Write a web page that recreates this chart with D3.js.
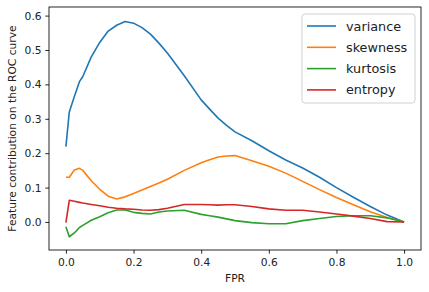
<!DOCTYPE html>
<html>
<head>
<meta charset="utf-8">
<script src="https://cdn.jsdelivr.net/npm/d3@7"></script>
<style>
  body { margin: 0; background: #fff; }
  svg text { font-family: "DejaVu Sans", sans-serif; fill: #222; }
</style>
</head>
<body>
<svg id="chart" width="429" height="292"></svg>
<script>
// FPR grid shared by all series
const fpr = [0, 0.01, 0.025, 0.04, 0.05, 0.075, 0.1, 0.125, 0.15, 0.175, 0.2, 0.225, 0.25, 0.275, 0.3,
  0.35, 0.4, 0.425, 0.45, 0.475, 0.5, 0.55, 0.6, 0.65, 0.7, 0.75, 0.8, 0.85, 0.9, 0.95, 1.0];

const variance = [0.219, 0.32, 0.365, 0.408, 0.423, 0.48, 0.522, 0.555, 0.572, 0.583, 0.578, 0.565, 0.546, 0.52, 0.491,
  0.425, 0.355, 0.328, 0.302, 0.281, 0.262, 0.236, 0.207, 0.18, 0.157, 0.13, 0.1, 0.072, 0.045, 0.02, 0.0];
const skewness = [0.13, 0.13, 0.151, 0.156, 0.15, 0.12, 0.095, 0.075, 0.067, 0.073, 0.083, 0.093, 0.103, 0.113, 0.124,
  0.15, 0.172, 0.181, 0.189, 0.192, 0.193, 0.178, 0.162, 0.142, 0.118, 0.094, 0.071, 0.05, 0.03, 0.013, 0.0];
const kurtosis = [-0.014, -0.043, -0.032, -0.016, -0.01, 0.005, 0.015, 0.027, 0.035, 0.035, 0.028, 0.025, 0.023, 0.029, 0.032,
  0.034, 0.022, 0.018, 0.014, 0.009, 0.004, -0.002, -0.005, -0.005, 0.004, 0.01, 0.016, 0.018, 0.018, 0.012, 0.0];
const entropy = [-0.002, 0.063, 0.06, 0.057, 0.055, 0.051, 0.047, 0.043, 0.04, 0.038, 0.037, 0.035, 0.034, 0.036, 0.04,
  0.051, 0.051, 0.05, 0.049, 0.05, 0.05, 0.045, 0.038, 0.034, 0.034, 0.029, 0.023, 0.017, 0.01, 0.001, 0.0];

const seriesNames = ["variance", "skewness", "kurtosis", "entropy"];
const seriesValues = [variance, skewness, kurtosis, entropy];
const colors = ["#1f77b4", "#ff7f0e", "#2ca02c", "#d62728"];

const xTicks = [0, 0.2, 0.4, 0.6, 0.8, 1.0];
const yTicks = [0.0, 0.1, 0.2, 0.3, 0.4, 0.5, 0.6];

const svg = d3.select("#chart");
const plotLeft = 49, plotRight = 421, plotTop = 7, plotBottom = 250;

const x = d3.scaleLinear().domain([-0.05, 1.05]).range([plotLeft, plotRight]);
const y = d3.scaleLinear().domain([-0.0815, 0.625]).range([plotBottom, plotTop]);

// Lines
const line = d3.line()
  .x(d => x(d[0]))
  .y(d => y(d[1]));

seriesValues.forEach((vals, i) => {
  svg.append("path")
    .datum(fpr.map((f, j) => [f, vals[j]]))
    .attr("fill", "none")
    .attr("stroke", colors[i])
    .attr("stroke-width", 1.6)
    .attr("stroke-linejoin", "round")
    .attr("d", line);
});

// Axes
const xAxis = svg.append("g")
  .attr("transform", `translate(0,${plotBottom})`)
  .call(d3.axisBottom(x).tickValues(xTicks).tickFormat(d3.format(".1f"))
    .tickSize(3.7).tickPadding(4.5).tickSizeOuter(0));
const yAxis = svg.append("g")
  .attr("transform", `translate(${plotLeft},0)`)
  .call(d3.axisLeft(y).tickValues(yTicks).tickFormat(d3.format(".1f"))
    .tickSize(3.7).tickPadding(3.7).tickSizeOuter(0));

[xAxis, yAxis].forEach(a => {
  a.select(".domain").remove();
  a.selectAll("line").attr("stroke", "#000").attr("stroke-width", 0.85);
  a.selectAll("text").attr("font-size", "10.7px").attr("fill", "#222")
    .attr("font-family", "DejaVu Sans, sans-serif");
});

// Frame
svg.append("rect")
  .attr("x", plotLeft).attr("y", plotTop)
  .attr("width", plotRight - plotLeft).attr("height", plotBottom - plotTop)
  .attr("fill", "none")
  .attr("stroke", "#000")
  .attr("stroke-width", 0.85);

// Axis labels
svg.append("text")
  .attr("x", (plotLeft + plotRight) / 2)
  .attr("y", 282)
  .attr("text-anchor", "middle")
  .attr("font-size", "10.7px")
  .text("FPR");

svg.append("text")
  .attr("transform", `translate(12,${(plotTop + plotBottom) / 2}) rotate(-90)`)
  .attr("text-anchor", "middle")
  .attr("dominant-baseline", "central")
  .attr("font-size", "10.7px")
  .text("Feature contribution on the ROC curve");

// Legend
const legend = svg.append("g").attr("transform", "translate(302,14)");
legend.append("rect")
  .attr("width", 113).attr("height", 89)
  .attr("rx", 3)
  .attr("fill", "#fff").attr("fill-opacity", 0.8)
  .attr("stroke", "#ccc").attr("stroke-width", 0.9);

seriesNames.forEach((name, i) => {
  const ly = 12 + i * 21.3;
  legend.append("line")
    .attr("x1", 5).attr("x2", 34)
    .attr("y1", ly).attr("y2", ly)
    .attr("stroke", colors[i]).attr("stroke-width", 1.6);
  legend.append("text")
    .attr("x", 44).attr("y", ly)
    .attr("dominant-baseline", "central")
    .attr("font-size", "12.8px")
    .text(name);
});
</script>
</body>
</html>
